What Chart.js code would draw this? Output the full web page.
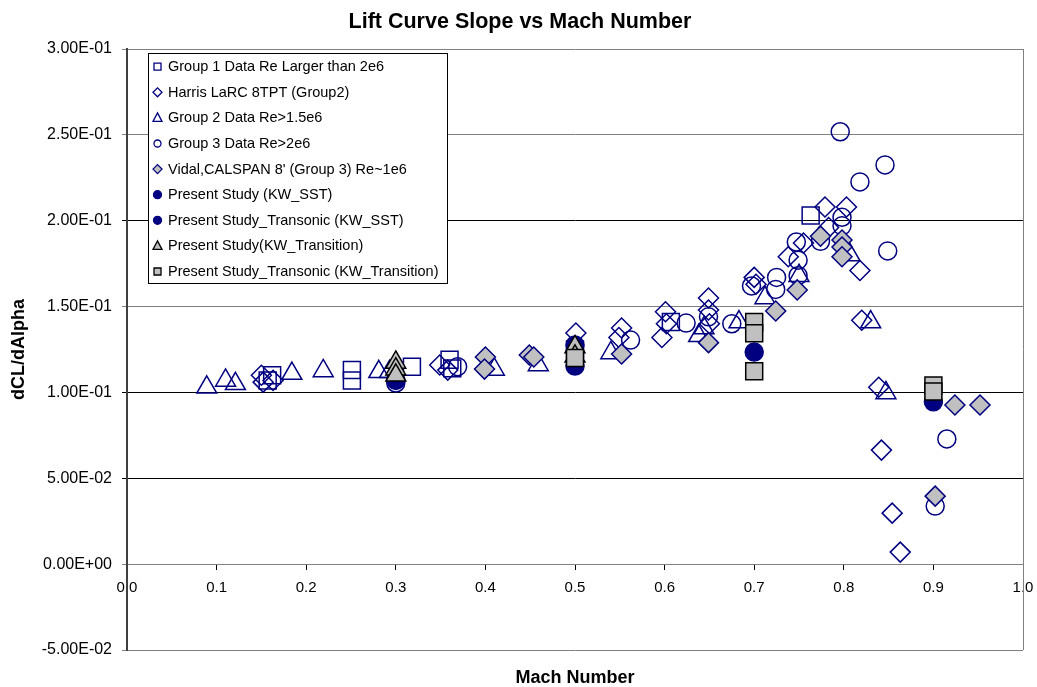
<!DOCTYPE html>
<html>
<head>
<meta charset="utf-8">
<title>Lift Curve Slope vs Mach Number</title>
<script src="https://cdn.jsdelivr.net/npm/chart.js@4.4.1/dist/chart.umd.min.js"></script>
<style>
  html, body { margin: 0; padding: 0; background: #fff; }
  #wrap { width: 1037px; height: 687px; }
</style>
</head>
<body>
<div id="wrap"><canvas id="chart" width="1037" height="687"></canvas></div>
<script>
// values (Mach number, dCL/dAlpha)
const group1Mach  = [0.157, 0.162, 0.251, 0.251, 0.318, 0.360, 0.363, 0.500, 0.607, 0.763];
const group1Slope = [0.107, 0.110, 0.113, 0.107, 0.115, 0.119, 0.114, 0.125, 0.141, 0.203];

const harrisMach  = [0.150, 0.152, 0.163, 0.349, 0.358, 0.501, 0.552, 0.549, 0.601, 0.597, 0.602, 0.649, 0.649, 0.650,
                     0.700, 0.702, 0.738, 0.755, 0.779, 0.803, 0.783, 0.818, 0.820, 0.839, 0.842, 0.854, 0.863];
const harrisSlope = [0.110, 0.106, 0.107, 0.116, 0.113, 0.1346, 0.1375, 0.132, 0.147, 0.132, 0.140, 0.155, 0.148, 0.140,
                     0.167, 0.163, 0.179, 0.187, 0.208, 0.208, 0.196, 0.171, 0.142, 0.103, 0.0664, 0.0297, 0.007];

const group2Mach  = [0.089, 0.110, 0.121, 0.184, 0.219, 0.281, 0.293, 0.410, 0.459, 0.540, 0.644, 0.638, 0.683, 0.712,
                     0.750, 0.807, 0.830, 0.847];
const group2Slope = [0.103, 0.107, 0.105, 0.111, 0.1125, 0.112, 0.112, 0.1134, 0.116, 0.123, 0.1375, 0.133, 0.141, 0.155,
                     0.168, 0.180, 0.141, 0.0997];

const group3Mach  = [0.300, 0.369, 0.562, 0.624, 0.649, 0.675, 0.697, 0.725, 0.724, 0.747, 0.749, 0.749, 0.774, 0.798,
                     0.798, 0.818, 0.846, 0.849, 0.796, 0.915, 0.902];
const group3Slope = [0.1055, 0.115, 0.1305, 0.1404, 0.144, 0.140, 0.162, 0.167, 0.160, 0.1876, 0.177, 0.168, 0.188, 0.202,
                     0.197, 0.2226, 0.2325, 0.1824, 0.2518, 0.0729, 0.0338];

const vidalMach  = [0.400, 0.399, 0.449, 0.454, 0.552, 0.649, 0.724, 0.748, 0.774, 0.798, 0.798, 0.798, 0.902, 0.924, 0.952];
const vidalSlope = [0.1206, 0.1136, 0.1218, 0.1206, 0.1224, 0.129, 0.1474, 0.1597, 0.191, 0.1888, 0.1847, 0.179, 0.0396, 0.0927, 0.0927];

const sstMach  = [0.3, 0.5, 0.5];
const sstSlope = [0.107, 0.1154, 0.1276];

const sstTransMach  = [0.7, 0.9];
const sstTransSlope = [0.1235, 0.0945];

const transitionMach  = [0.3, 0.3, 0.3, 0.5, 0.5];
const transitionSlope = [0.1175, 0.1135, 0.110, 0.1265, 0.121];

const transTransMach  = [0.5, 0.7, 0.7, 0.7, 0.9, 0.9];
const transTransSlope = [0.120, 0.141, 0.1345, 0.1123, 0.104, 0.1005];

const NAVY = '#000080';
const GRAY = '#c0c0c0';
const FONT = '"Liberation Sans", Arial, sans-serif';

function pts(xs, ys) {
    return xs.map((x, i) => ({x: x, y: ys[i]}));
}

const series = [
    {label: 'Group 1 Data Re Larger than 2e6', xs: group1Mach, ys: group1Slope, style: 'rect', r: 12, fill: 'rgba(0,0,0,0)', line: NAVY},
    {label: 'Harris LaRC 8TPT (Group2)', xs: harrisMach, ys: harrisSlope, style: 'rectRot', r: 10, fill: 'rgba(0,0,0,0)', line: NAVY},
    {label: 'Group 2 Data Re>1.5e6', xs: group2Mach, ys: group2Slope, style: 'triangle', r: 11.5, fill: 'rgba(0,0,0,0)', line: NAVY},
    {label: 'Group 3 Data Re>2e6', xs: group3Mach, ys: group3Slope, style: 'circle', r: 9, fill: 'rgba(0,0,0,0)', line: NAVY},
    {label: "Vidal,CALSPAN 8' (Group 3) Re~1e6", xs: vidalMach, ys: vidalSlope, style: 'rectRot', r: 10, fill: GRAY, line: NAVY},
    {label: 'Present Study (KW_SST)', xs: sstMach, ys: sstSlope, style: 'circle', r: 9, fill: NAVY, line: NAVY},
    {label: 'Present Study_Transonic (KW_SST)', xs: sstTransMach, ys: sstTransSlope, style: 'circle', r: 9, fill: NAVY, line: NAVY},
    {label: 'Present Study(KW_Transition)', xs: transitionMach, ys: transitionSlope, style: 'triangle', r: 11.5, fill: GRAY, line: '#000'},
    {label: 'Present Study_Transonic (KW_Transition)', xs: transTransMach, ys: transTransSlope, style: 'rect', r: 12, fill: GRAY, line: '#000'}
];

const datasets = series.map((s, i) => ({
    label: s.label,
    data: pts(s.xs, s.ys),
    pointStyle: s.style,
    pointRadius: s.r,
    pointBackgroundColor: s.fill,
    pointBorderColor: s.line,
    pointBorderWidth: 1.5,
    showLine: false,
    order: -i   // later series on top, like the original
}));

function sci(v) {
    if (Math.abs(v) < 1e-12) v = 0;
    const parts = v.toExponential(2).split('e');
    const n = parseInt(parts[1], 10);
    return parts[0] + 'E' + (n < 0 ? '-' : '+') + String(Math.abs(n)).padStart(2, '0');
}

// small legend marker drawn by hand
function legendMarker(ctx, s, x, y) {
    ctx.beginPath();
    if (s.style === 'rect') {
        ctx.rect(x - 3.5, y - 3.5, 7, 7);
    } else if (s.style === 'rectRot') {
        ctx.moveTo(x - 4.5, y); ctx.lineTo(x, y - 4.5); ctx.lineTo(x + 4.5, y); ctx.lineTo(x, y + 4.5); ctx.closePath();
    } else if (s.style === 'triangle') {
        ctx.moveTo(x, y - 5); ctx.lineTo(x + 4.5, y + 3.5); ctx.lineTo(x - 4.5, y + 3.5); ctx.closePath();
    } else {
        ctx.arc(x, y, s.fill === NAVY ? 4 : 3.5, 0, Math.PI * 2);
    }
    ctx.fillStyle = s.fill;
    ctx.fill();
    ctx.lineWidth = 1.3;
    ctx.strokeStyle = s.line;
    ctx.stroke();
}

const extras = {
    id: 'extras',
    beforeDatasetsDraw(chart) {
        const {ctx, chartArea: a} = chart;
        ctx.save();
        ctx.strokeStyle = '#808080';
        ctx.lineWidth = 1;
        ctx.beginPath();
        ctx.moveTo(Math.round(a.right) + 0.5, a.top);
        ctx.lineTo(Math.round(a.right) + 0.5, a.bottom);
        ctx.stroke();
        ctx.restore();
    },
    afterDraw(chart) {
        const {ctx, chartArea: a} = chart;
        ctx.save();
        ctx.fillStyle = '#000';
        ctx.textAlign = 'center';
        ctx.textBaseline = 'middle';
        // chart title, centred on the whole picture
        ctx.font = 'bold 21.5px ' + FONT;
        ctx.fillText('Lift Curve Slope vs Mach Number', 520, 22);
        // x axis title sits below the plot frame
        ctx.font = 'bold 18px ' + FONT;
        ctx.fillText('Mach Number', (a.left + a.right) / 2, 678);

        // legend box inside the plot
        ctx.fillStyle = '#fff';
        ctx.fillRect(148.5, 53.5, 299, 230);
        ctx.strokeStyle = '#000';
        ctx.lineWidth = 1;
        ctx.strokeRect(148.5, 53.5, 299, 230);
        ctx.font = '14.5px ' + FONT;
        ctx.textAlign = 'left';
        series.forEach((s, i) => {
            const y = 66.7 + i * 25.6;
            legendMarker(ctx, s, 157.5, y);
            ctx.fillStyle = '#000';
            ctx.fillText(s.label, 168, y + 0.5);
        });
        ctx.restore();
    }
};

const near = (a, b) => Math.abs(a - b) < 1e-9;
const gridColor = ctx => {
    const v = ctx.tick ? ctx.tick.value : 1;
    if (near(v, 0) || near(v, -0.05) || near(v, 0.3) || near(v, 0.25) || near(v, 0.15)) return '#808080';
    return '#000';
};

new Chart(document.getElementById('chart'), {
    type: 'scatter',
    data: {datasets: datasets},
    options: {
        responsive: false,
        animation: false,
        events: [],
        layout: {padding: {top: 49, right: 14, bottom: 37, left: 0}},
        plugins: {
            legend: {display: false},
            tooltip: {enabled: false},
            title: {display: false}
        },
        scales: {
            x: {
                type: 'linear',
                position: {y: 0},
                min: 0,
                max: 1,
                ticks: {
                    stepSize: 0.1,
                    autoSkip: false,
                    maxRotation: 0,
                    padding: 10,
                    color: '#000',
                    font: {family: FONT, size: 15},
                    callback: v => v.toFixed(1)
                },
                grid: {drawOnChartArea: false, tickLength: 5, color: '#000'},
                border: {color: '#808080', width: 1},
                afterFit: s => { s.paddingLeft = 0; s.paddingRight = 0; }
            },
            y: {
                type: 'linear',
                position: 'left',
                min: -0.05,
                max: 0.3,
                ticks: {
                    stepSize: 0.05,
                    padding: 10,
                    color: '#000',
                    font: {family: FONT, size: 16},
                    callback: v => sci(v)
                },
                grid: {color: gridColor, tickLength: 5, lineWidth: 1},
                border: {color: '#404040', width: 2},
                title: {
                    display: true,
                    text: 'dCL/dAlpha',
                    color: '#000',
                    font: {family: FONT, size: 18, weight: 'bold'},
                    padding: {top: 8, bottom: 0}
                },
                afterFit: s => { s.width = 127; }
            }
        }
    },
    plugins: [extras]
});
</script>
</body>
</html>
